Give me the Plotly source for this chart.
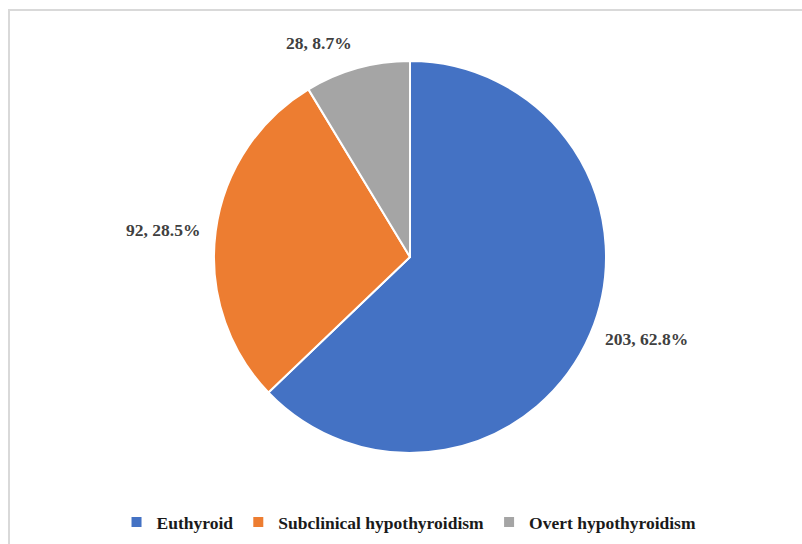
import math
import plotly.graph_objects as go

labels = ["Euthyroid", "Subclinical hypothyroidism", "Overt hypothyroidism"]
counts = [203, 92, 28]
percents = [62.8, 28.5, 8.7]
colors = ["#4472C4", "#ED7D31", "#A5A5A5"]

W, H = 802, 544
cx, cy, r = 410, 257, 196

fig = go.Figure(go.Pie(
    labels=labels,
    values=counts,
    textinfo="none",
    marker=dict(colors=colors, line=dict(color="white", width=2)),
    sort=False,
    direction="clockwise",
    rotation=0,
    hoverinfo="label+value+percent",
    domain=dict(x=[(cx - r) / W, (cx + r) / W], y=[(H - cy - r) / H, (H - cy + r) / H]),
))

# Data labels placed just outside each slice, at its mid-angle (derived from the values)
annotations = []
total = sum(counts)
cum = 0
R = r + 14
for n, p in zip(counts, percents):
    mid = (cum + n / 2) / total * 2 * math.pi
    cum += n
    s, c = math.sin(mid), math.cos(mid)
    px = cx + R * s
    py = cy - R * c
    xa = "left" if s > 0.1 else ("right" if s < -0.1 else "center")
    ya = "bottom" if c > 0.5 else ("top" if c < -0.5 else "middle")
    annotations.append(dict(
        x=px / W, y=1 - py / H, xref="paper", yref="paper",
        text=f"{n}, {p}%", showarrow=False, xanchor=xa, yanchor=ya,
        font=dict(family="Liberation Serif", size=17.5, color="#404040", weight="bold"),
    ))

fig.update_layout(
    width=W, height=H,
    margin=dict(l=0, r=0, t=0, b=0),
    paper_bgcolor="white",
    font=dict(family="Liberation Serif", size=17.5, color="#000000"),
    showlegend=True,
    legend=dict(
        orientation="h", x=0.510, xanchor="center", y=(H - 522) / H, yanchor="middle",
        font=dict(family="Liberation Serif", size=17.5, color="#1a1a1a", weight="bold"),
        itemwidth=30,
    ),
    annotations=annotations,
    shapes=[dict(type="rect", xref="paper", yref="paper",
                 x0=9 / W, x1=1.02, y0=-0.02, y1=1 - 10 / H,
                 line=dict(color="#D9D9D9", width=2))],
)

fig.write_html("out.html")
